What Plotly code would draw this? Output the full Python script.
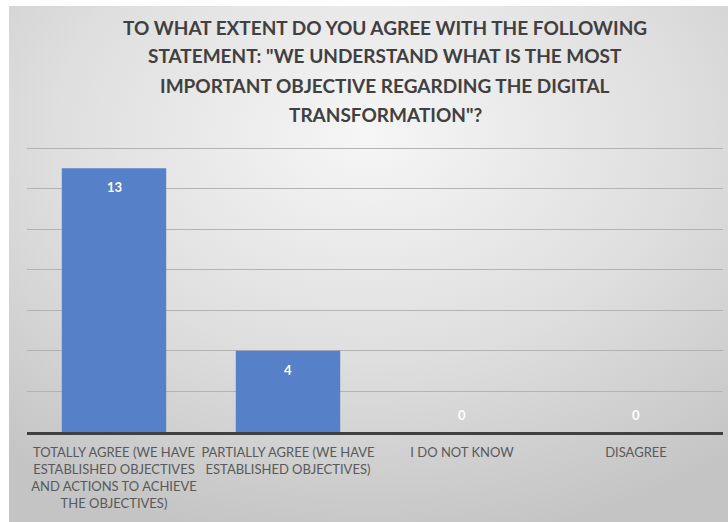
import urllib.parse
import plotly.graph_objects as go

# Survey answers and counts
categories = [
    "TOTALLY AGREE (WE HAVE<br>ESTABLISHED OBJECTIVES<br>AND ACTIONS TO ACHIEVE<br>THE OBJECTIVES)",
    "PARTIALLY AGREE (WE HAVE<br>ESTABLISHED OBJECTIVES)",
    "I DO NOT KNOW",
    "DISAGREE",
]
responses = [13, 4, 0, 0]

title_lines = [
    "TO WHAT EXTENT DO YOU AGREE WITH THE FOLLOWING",
    "STATEMENT: \"WE UNDERSTAND WHAT IS THE MOST",
    "IMPORTANT OBJECTIVE REGARDING THE DIGITAL",
    "TRANSFORMATION\"?",
]

W, H = 728, 522
L, R, T, B = 27, 5, 147, 90
plot_w = W - L - R
plot_h = H - T - B

# Soft radial-gradient panel behind the chart
svg = (
    "<svg xmlns='http://www.w3.org/2000/svg' width='719' height='516' preserveAspectRatio='none'>"
    "<defs><radialGradient id='g' cx='0.5' cy='0.25' r='0.8' gradientUnits='objectBoundingBox'>"
    "<stop offset='0' stop-color='#f6f6f6'/><stop offset='0.55' stop-color='#dedede'/>"
    "<stop offset='1' stop-color='#c4c4c4'/></radialGradient></defs>"
    "<rect width='719' height='516' fill='url(#g)'/></svg>"
)
panel_src = "data:image/svg+xml;charset=utf-8," + urllib.parse.quote(svg)

panel_left, panel_top = 9, 6

fig = go.Figure(
    go.Bar(
        x=list(range(len(categories))),
        y=responses,
        marker=dict(color="#5681c9", line=dict(width=0)),
        hoverinfo="skip",
    )
)

label_font = dict(family="Lato, Open Sans, sans-serif", size=13, color="white")
annotations = []
# Data labels: inside the top of each bar, or just above the axis for zero counts
for i, v in enumerate(responses):
    if v > 0:
        annotations.append(dict(x=i, y=v, xref="x", yref="y", text=f"<b>{v}</b>",
                                showarrow=False, yanchor="top", yshift=-9, font=label_font))
    else:
        annotations.append(dict(x=i, y=0, xref="x", yref="y", text=f"<b>{v}</b>",
                                showarrow=False, yanchor="bottom", yshift=7, font=label_font))

# Title, one line at a time for tighter control of spacing
title_y0 = 27
for k, line in enumerate(title_lines):
    py = title_y0 + k * 29
    annotations.append(dict(x=(385 - L) / plot_w, y=(H - B - py) / plot_h, xref="paper", yref="paper",
                            text=f"<b>{line}</b>", showarrow=False, xanchor="center", yanchor="middle",
                            font=dict(family="Lato, Open Sans, sans-serif", size=19, color="#404040")))

fig.update_layout(
    width=W,
    height=H,
    margin=dict(l=L, r=R, t=T, b=B, pad=0),
    paper_bgcolor="white",
    plot_bgcolor="rgba(0,0,0,0)",
    bargap=0.4,
    showlegend=False,
    annotations=annotations,
    images=[dict(
        source=panel_src, xref="paper", yref="paper",
        x=(panel_left - L) / plot_w, y=(H - B - panel_top) / plot_h,
        sizex=(W - panel_left) / plot_w, sizey=(H - panel_top) / plot_h,
        xanchor="left", yanchor="top", sizing="stretch", layer="below",
    )],
    xaxis=dict(
        tickmode="array",
        tickvals=list(range(len(categories))),
        ticktext=categories,
        range=[-0.5, len(categories) - 0.5],
        showline=True, linecolor="#404040", linewidth=2.5,
        showgrid=False, ticks="", ticklabelstandoff=7,
        tickfont=dict(family="Lato, Open Sans, sans-serif", size=13, color="#595959"),
    ),
    yaxis=dict(
        range=[0, 14.05], dtick=2, showticklabels=False,
        showgrid=True, gridcolor="#b3b3b3", gridwidth=1,
        zeroline=False, showline=False, ticks="",
    ),
)

fig.write_html("out.html")
